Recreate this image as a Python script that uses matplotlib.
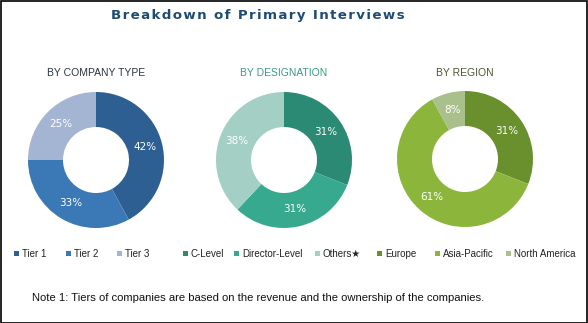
import matplotlib
matplotlib.use("Agg")
import matplotlib.pyplot as plt

W, H = 588, 323

company_labels = ["Tier 1", "Tier 2", "Tier 3"]
company_values = [42, 33, 25]
company_colors = ["#2e5f92", "#3b78b6", "#a3b5d3"]

designation_labels = ["C-Level", "Director-Level", "Others\u2605"]
designation_values = [31, 31, 38]
designation_colors = ["#2b8a74", "#36a98f", "#a4cfc4"]

region_labels = ["Europe", "Asia-Pacific", "North America"]
region_values = [31, 61, 8]
region_colors = ["#6a8f2d", "#8cb63b", "#a9bf8c"]

title_text = "Breakdown of Primary Interviews"

fig = plt.figure(figsize=(W / 100, H / 100), dpi=100)
fig.patch.set_facecolor("white")

border = plt.Rectangle((0.5 / W, 0.5 / H), 1 - 1.5 / W, 1 - 1.5 / H, transform=fig.transFigure,
                       fill=False, edgecolor="black", linewidth=1.2)
fig.add_artist(border)

spaced = "\u200a".join(title_text)
fig.text(258 / W, 1 - 16 / H, spaced, ha="center", va="center", fontsize=9.6, fontweight="bold",
         color="#1d4b73", family="DejaVu Sans")


def donut(cx, cy, values, colors, title, title_color, legend_labels, leg_xs):
    r = 68
    size = 150
    ax = fig.add_axes([(cx - size / 2) / W, 1 - (cy + size / 2) / H, size / W, size / H])
    wedges, texts, autotexts = ax.pie(values, colors=colors, startangle=90, counterclock=False,
                                      radius=r / (size / 2),
                                      wedgeprops=dict(width=(r - 33) / (size / 2), linewidth=0),
                                      autopct=lambda p: f"{p:.0f}%", pctdistance=0.74,
                                      textprops=dict(color="white", fontsize=7.5))
    ax.set_xlim(-1, 1)
    ax.set_ylim(-1, 1)
    ax.set_aspect("equal")
    fig.text(cx / W, 1 - 73 / H, title, ha="center", va="center", fontsize=7.5,
             color=title_color, family="Liberation Sans")
    for w, lab, lx in zip(wedges, legend_labels, leg_xs):
        leg = fig.legend([w], [lab], loc="center left", bbox_to_anchor=(lx / W, 1 - 254 / H),
                         frameon=False, handlelength=0.5, handleheight=0.5,
                         handletextpad=0.3, borderaxespad=0, borderpad=0,
                         prop=dict(family=["Liberation Sans", "DejaVu Sans"], size=7))
        for t in leg.get_texts():
            t.set_color("#222222")


donut(96, 160, company_values, company_colors, "BY COMPANY TYPE", "#2c3440", company_labels, [14, 66, 117])
donut(284, 160, designation_values, designation_colors, "BY DESIGNATION", "#3a9a86", designation_labels, [183, 234, 315])
donut(465, 159, region_values, region_colors, "BY REGION", "#4b5530", region_labels, [377, 435, 506])

fig.text(258 / W, 1 - 298 / H, "Note 1: Tiers of companies are based on the revenue and the ownership of the companies.",
         ha="center", va="center", fontsize=8.1, color="#111111", family="Liberation Sans")

fig.savefig("out.png", dpi=100, facecolor="white")
